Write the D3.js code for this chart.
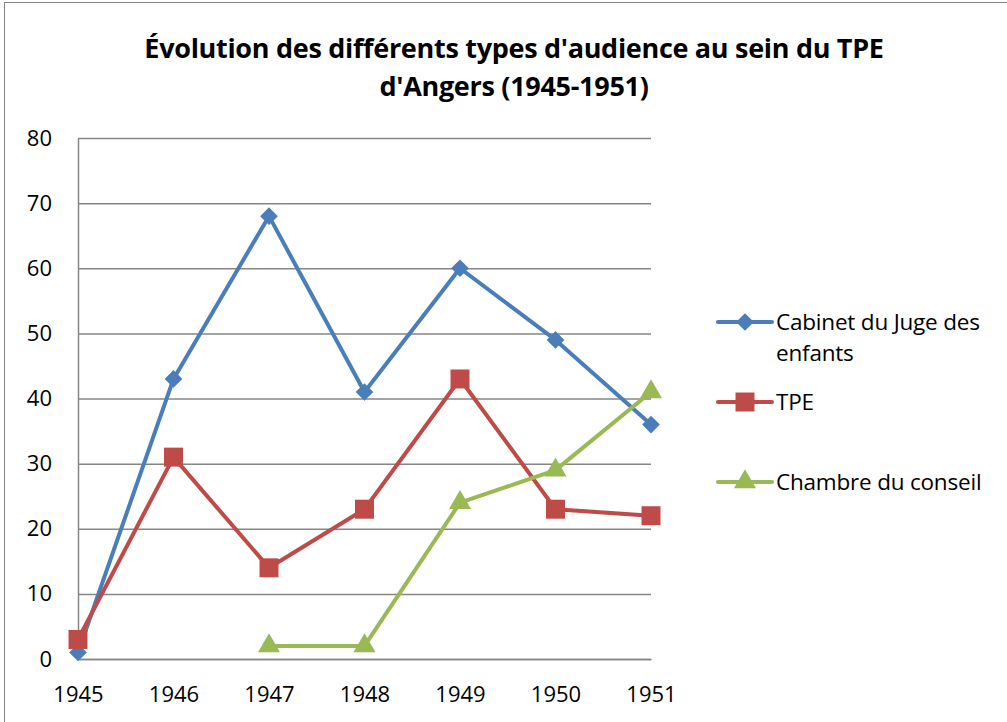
<!DOCTYPE html>
<html>
<head>
<meta charset="utf-8">
<script src="https://cdn.jsdelivr.net/npm/d3@7"></script>
<style>
  html, body { margin: 0; padding: 0; background: #fff; }
  svg { display: block; font-family: "Open Sans", Lato, sans-serif; }
</style>
</head>
<body>
<svg id="chart" width="1007" height="722"></svg>
<script>
// Audiences at the TPE of Angers, 1945-1951
const years = [1945, 1946, 1947, 1948, 1949, 1950, 1951];
const cabinetJuge = [1, 43, 68, 41, 60, 49, 36];
const tpe = [3, 31, 14, 23, 43, 23, 22];
const chambreConseil = [null, null, 2, 2, 24, 29, 41];
const yTicks = [0, 10, 20, 30, 40, 50, 60, 70, 80];
const titleLines = ["Évolution des différents types d'audience au sein du TPE", "d'Angers (1945-1951)"];

const series = [
  { name: ["Cabinet du Juge des", "enfants"], values: cabinetJuge, color: "#4A7EBB", marker: "diamond" },
  { name: ["TPE"], values: tpe, color: "#BE4B48", marker: "square" },
  { name: ["Chambre du conseil"], values: chambreConseil, color: "#98B954", marker: "triangle" }
];

const FONT = "'Open Sans', Lato, sans-serif";
const svg = d3.select("#chart");

// chart frame
svg.append("rect")
  .attr("x", 4.5).attr("y", 2.5)
  .attr("width", 1010).attr("height", 730)
  .attr("fill", "#fff").attr("stroke", "#868686").attr("stroke-width", 1);

const x = d3.scalePoint().domain(years).range([78, 651]);
const y = d3.scaleLinear().domain([0, 80]).range([659, 138]);

// title
svg.append("text")
  .attr("x", 514).attr("y", 58)
  .attr("text-anchor", "middle")
  .attr("font-size", 27).attr("font-weight", "bold").attr("fill", "#000")
  .attr("letter-spacing", -0.3)
  .selectAll("tspan").data(titleLines).join("tspan")
  .attr("x", 514).attr("dy", (d, i) => i === 0 ? 0 : 38)
  .text(d => d);

// horizontal gridlines
svg.append("g").selectAll("line").data(yTicks).join("line")
  .attr("x1", x.range()[0]).attr("x2", x.range()[1])
  .attr("y1", d => y(d) + 0.5).attr("y2", d => y(d) + 0.5)
  .attr("stroke", "#868686").attr("stroke-width", 1.5);

// axes
const yAxis = svg.append("g")
  .attr("transform", `translate(${x.range()[0]},0)`)
  .call(d3.axisLeft(y).tickValues(yTicks).tickSize(0).tickPadding(26));
yAxis.select(".domain").attr("stroke", "#868686").attr("stroke-width", 1.5);
yAxis.selectAll("text").attr("font-size", 22).attr("fill", "#000").attr("font-family", FONT);

const xAxis = svg.append("g")
  .attr("transform", `translate(0,${y(0)})`)
  .call(d3.axisBottom(x).tickFormat(d3.format("d")).tickSize(0).tickPadding(27));
xAxis.select(".domain").attr("stroke", "#868686").attr("stroke-width", 1.5);
xAxis.selectAll("text").attr("font-size", 22).attr("fill", "#000").attr("font-family", FONT);

// marker shapes
const symbolFor = {
  diamond: d3.symbol().type(d3.symbolDiamond2).size(200),
  square: d3.symbol().type(d3.symbolSquare).size(360),
  triangle: d3.symbol().type(d3.symbolTriangle).size(210)
};

const line = d3.line()
  .defined(d => d.v !== null)
  .x(d => x(d.year)).y(d => y(d.v));

series.forEach(s => {
  const pts = years.map((yr, i) => ({ year: yr, v: s.values[i] }));
  svg.append("path")
    .datum(pts)
    .attr("d", line)
    .attr("fill", "none").attr("stroke", s.color)
    .attr("stroke-width", 4).attr("stroke-linejoin", "round").attr("stroke-linecap", "round");
  svg.append("g").selectAll("path").data(pts.filter(d => d.v !== null)).join("path")
    .attr("d", symbolFor[s.marker])
    .attr("transform", d => `translate(${x(d.year)},${y(d.v)})`)
    .attr("fill", s.color);
});

// legend
const legendY = [322, 402, 482];
series.forEach((s, i) => {
  const g = svg.append("g").attr("transform", `translate(718,${legendY[i]})`);
  g.append("line").attr("x1", 0).attr("x2", 54).attr("y1", 0).attr("y2", 0)
    .attr("stroke", s.color).attr("stroke-width", 4).attr("stroke-linecap", "round");
  g.append("path").attr("d", symbolFor[s.marker]).attr("transform", "translate(27,0)").attr("fill", s.color);
  g.append("text").attr("x", 58).attr("y", 0)
    .attr("font-size", 22.5).attr("fill", "#000")
    .attr("letter-spacing", -0.2)
    .selectAll("tspan").data(s.name).join("tspan")
    .attr("x", 58).attr("dy", (d, j) => j === 0 ? "0.35em" : 31)
    .text(d => d);
});
</script>
</body>
</html>
